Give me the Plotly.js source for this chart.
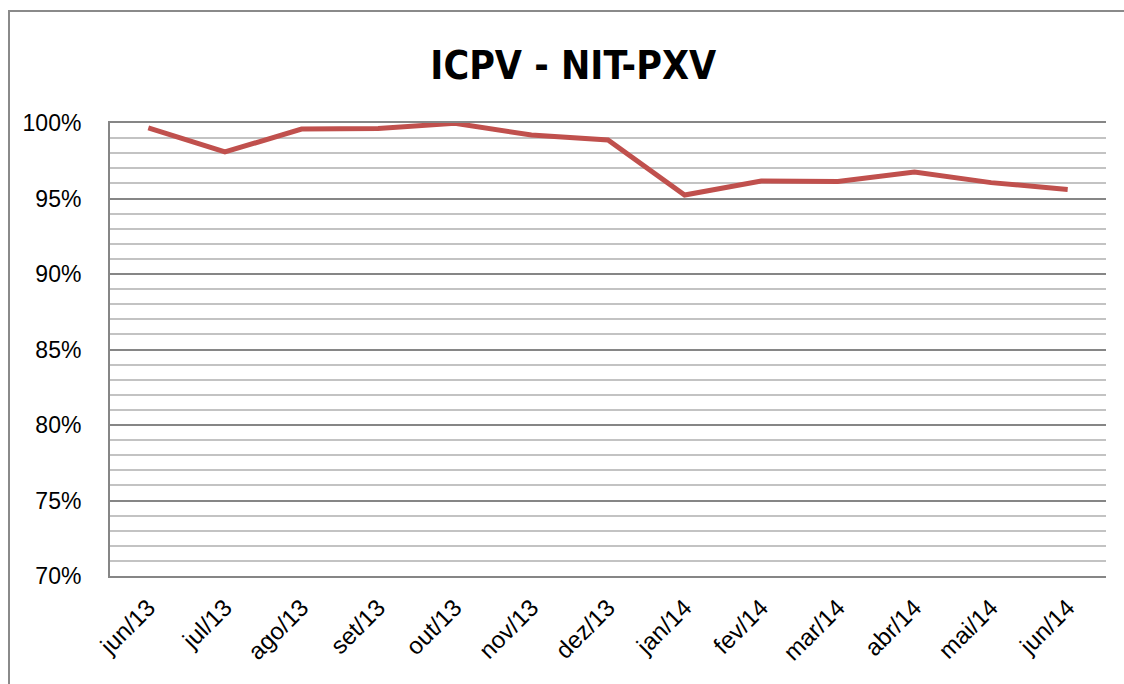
<!DOCTYPE html>
<html>
<head>
<meta charset="utf-8">
<script src="https://cdn.plot.ly/plotly-3.0.1.min.js"></script>
<style>
  html, body { margin: 0; padding: 0; background: #ffffff; overflow: hidden; }
  #frame { position: absolute; left: 8px; top: 10px; width: 1200px; height: 760px; border: 2px solid #8a8a8a; box-sizing: border-box; }
  #chart { position: absolute; left: 0; top: 0; width: 1124px; height: 684px; }
</style>
</head>
<body>
<div id="frame"></div>
<div id="chart"></div>
<script>
const months = ["jun/13","jul/13","ago/13","set/13","out/13","nov/13","dez/13","jan/14","fev/14","mar/14","abr/14","mai/14","jun/14"];
const icpv = [0.9967, 0.9808, 0.9960, 0.9963, 0.9998, 0.9920, 0.9887, 0.9523, 0.9616, 0.9613, 0.9675, 0.9605, 0.9560];
const yTickVals = [0.70, 0.75, 0.80, 0.85, 0.90, 0.95, 1.00];
const yTickText = ["70%","75%","80%","85%","90%","95%","100%"];

const trace = {
  x: months,
  y: icpv,
  type: "scatter",
  mode: "lines",
  line: { color: "#c0504d", width: 5 },
  hoverinfo: "x+y"
};

const layout = {
  width: 1124,
  height: 684,
  paper_bgcolor: "rgba(0,0,0,0)",
  plot_bgcolor: "#ffffff",
  margin: { l: 110, r: 18, t: 123, b: 108 },
  showlegend: false,
  title: {
    text: "<b>ICPV - NIT-PXV</b>",
    font: { family: "DejaVu Sans Condensed, Liberation Sans, sans-serif", size: 39, color: "#000000" },
    x: 0.51, xanchor: "center",
    y: 0.905, yanchor: "middle", yref: "container"
  },
  xaxis: {
    type: "category",
    range: [-0.5, months.length - 0.5],
    tickangle: -45,
    tickfont: { family: "Liberation Sans, Arial, sans-serif", size: 24, color: "#000000" },
    showgrid: false,
    showline: true,
    mirror: true,
    linecolor: "#868686",
    linewidth: 2,
    ticks: "",
    ticklabelstandoff: 6,
    zeroline: false,
    fixedrange: true
  },
  yaxis: {
    range: [0.70, 1.00],
    tickvals: yTickVals,
    ticktext: yTickText,
    tickfont: { family: "Liberation Sans, Arial, sans-serif", size: 23, color: "#000000" },
    showgrid: true,
    gridcolor: "#868686",
    gridwidth: 2,
    minor: { dtick: 0.01, tick0: 0.70, showgrid: true, gridcolor: "#c3c3c3", gridwidth: 2 },
    showline: true,
    linecolor: "#868686",
    linewidth: 2,
    mirror: false,
    ticks: "",
    ticklabelstandoff: 22,
    zeroline: false,
    fixedrange: true
  }
};

Plotly.newPlot("chart", [trace], layout, { displayModeBar: false, staticPlot: true });
</script>
</body>
</html>
